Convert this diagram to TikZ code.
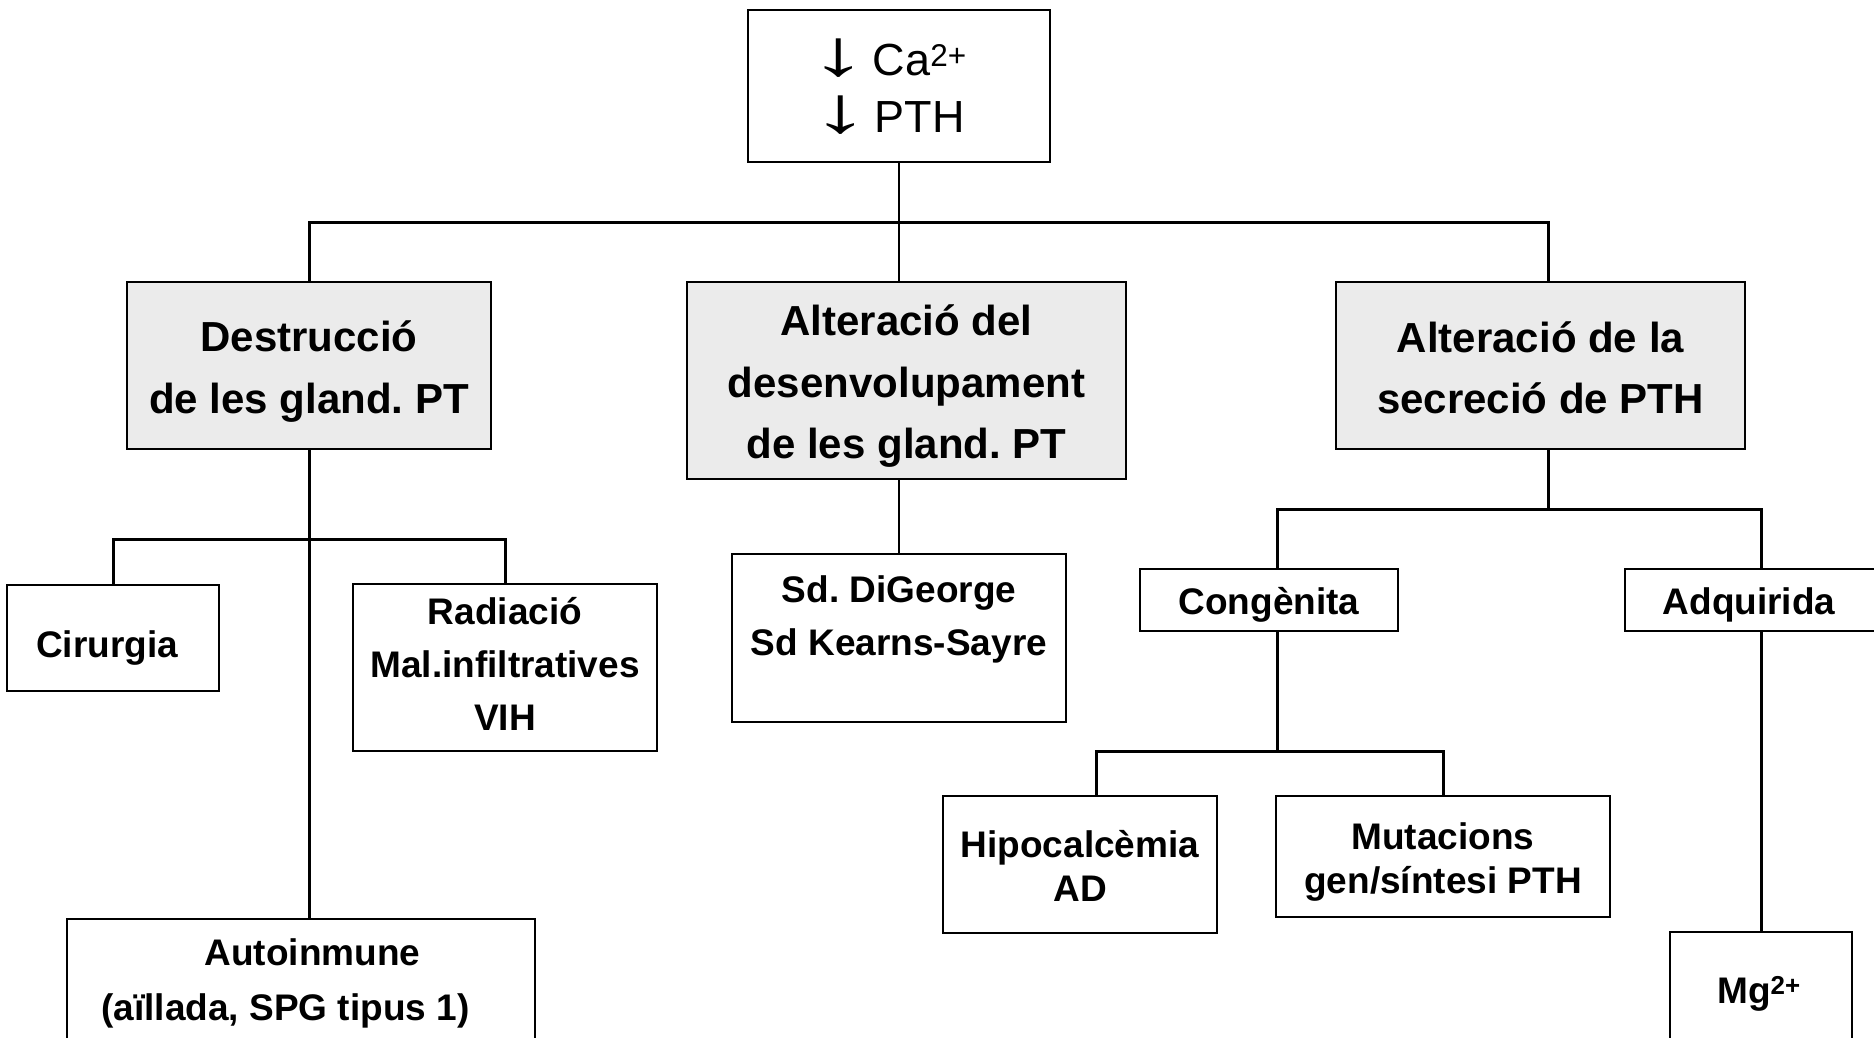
\documentclass[tikz,border=0pt]{standalone}
\usepackage{fontspec}
\setmainfont{Liberation Sans}
\definecolor{glandgray}{HTML}{EBEBEB}
\newcommand{\downarr}{\scalebox{2.6}[1.45]{↓}\hspace{5pt}}
\begin{document}
\frenchspacing
\begin{tikzpicture}[x=1pt, y=-1pt,
    box/.style={draw, line width=2pt, inner sep=0pt},
    headbox/.style={box, fill=glandgray},
    headtxt/.style={inner sep=0pt, align=center, font=\fontsize{42}{61.5}\selectfont\bfseries},
    subtxt/.style={inner sep=0pt, align=center, font=\fontsize{37}{53}\selectfont\bfseries},
    conn/.style={line width=3pt},
    midconn/.style={line width=2pt}]
    \useasboundingbox (0,0) rectangle (1874,1037);
    \clip (0,0) rectangle (1874,1037);

    % top
    \node[box, minimum width=302, minimum height=152] (top) at (899,86) {};
    \node[inner sep=0pt, align=center, font=\fontsize{45}{57}\selectfont] (toptxt) at (888,87) {\downarr Ca\textsuperscript{2+}\\\downarr PTH};

    % three causes
    \node[headbox, minimum width=364, minimum height=167] (destr) at (309,365.5) {};
    \node[headtxt] (destrtxt) at (309,371.5) {Destrucció\\de les gland. PT};
    \node[headbox, minimum width=439, minimum height=197] (dev) at (906.5,380.5) {};
    \node[headtxt] (devtxt) at (906.5,386.5) {Alteració del\\desenvolupament\\de les gland. PT};
    \node[headbox, minimum width=409, minimum height=167] (secr) at (1540.5,365.5) {};
    \node[headtxt] (secrtxt) at (1540.5,368) {Alteració de la\\secreció de PTH};

    % destruccio
    \node[box, minimum width=212, minimum height=106] (cir) at (113,638) {};
    \node[subtxt] (cirtxt) at (107,648) {Cirurgia};
    \node[box, minimum width=304, minimum height=167] (rad) at (505,667.5) {};
    \node[subtxt] (radtxt) at (505,663.5) {Radiació\\Mal.infiltratives\\VIH};
    \node[box, minimum width=468, minimum height=160] (auto) at (301,999) {};
    \node[subtxt, font=\fontsize{37}{55}\selectfont\bfseries] (autotxt) at (285.5,983) {\hspace*{54pt}Autoinmune\\(aïllada, SPG tipus 1)};

    % desenvolupament
    \node[box, minimum width=334, minimum height=168] (dig) at (899,638) {};
    \node[subtxt] (digtxt) at (899,619.5) {Sd. DiGeorge\\Sd Kearns-Sayre};

    % secrecio
    \node[box, minimum width=258, minimum height=62] (cong) at (1269,600) {};
    \node[subtxt] (congtxt) at (1269,605) {Congènita};
    \node[box, minimum width=252, minimum height=62] (adq) at (1751,600) {};
    \node[subtxt] (adqtxt) at (1749,605) {Adquirida};
    \node[box, minimum width=274, minimum height=137] (hipo) at (1080,864.5) {};
    \node[subtxt, font=\fontsize{37}{44}\selectfont\bfseries] (hipotxt) at (1080,865.5) {Hipocalcèmia\\AD};
    \node[box, minimum width=334, minimum height=121] (mut) at (1443,856.5) {};
    \node[subtxt, font=\fontsize{37}{44}\selectfont\bfseries] (muttxt) at (1443,862.5) {Mutacions\\gen/síntesi PTH};
    \node[box, minimum width=182, minimum height=150] (mg) at (1761,1007) {};
    \node[subtxt] (mgtxt) at (1759,993.5) {Mg\textsuperscript{2+}};

    % connectors
    \coordinate (topbar) at (899,222);
    \coordinate (secrbar) at (1548,509);
    \draw[midconn] (top.south) -- (top.south |- dev.north);
    \draw[conn] (destr.north) |- (topbar) -| (secr.north -| secrbar);

    \coordinate (destrbar) at (309,539);
    \draw[conn] (destr.south) -- (destr.south |- auto.north);
    \draw[conn] (cir.north) |- (destrbar) -| (rad.north);

    \draw[midconn] (dig.north |- dev.south) -- (dig.north);

    \coordinate (congbar) at (1277,751);
    \draw[conn] (secr.south -| secrbar) -- (secrbar);
    \draw[conn] (cong.north -| congbar) |- (secrbar) -| (mg.north |- adq.north);
    \draw[conn] (mg.north |- adq.south) -- (mg.north);

    \draw[conn] (cong.south -| congbar) -- (congbar);
    \draw[conn] (hipo.north -| 1096,0) |- (congbar) -| (mut.north);
\end{tikzpicture}
\end{document}
